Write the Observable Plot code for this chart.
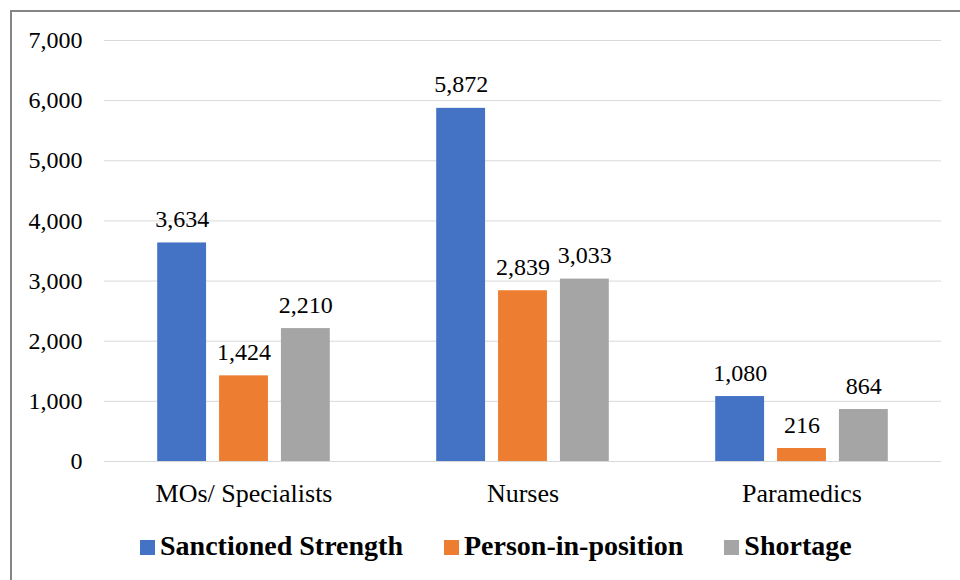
<!DOCTYPE html>
<html>
<head>
<meta charset="utf-8">
<script src="https://cdn.jsdelivr.net/npm/d3@7"></script>
<script src="https://cdn.jsdelivr.net/npm/@observablehq/plot@0.6"></script>
<style>
  body { margin: 0; padding: 0; background: #fff; font-family: 'Times New Roman', 'Liberation Serif', serif; }
  .frame { position: absolute; left: 10px; top: 10px; width: 969px; height: 600px; border: 2px solid #858585; box-sizing: border-box; }
  .chart { position: absolute; left: 0; top: 0; }
  .legend { position: absolute; left: 140px; top: 532px; white-space: nowrap; font-weight: bold; font-size: 28px; line-height: 28px; color: #000; font-family: 'Times New Roman', 'Liberation Serif', serif; }
  .item { display: inline-block; margin-right: 41px; }
  .sw { display: inline-block; width: 15px; height: 15px; margin-right: 5px; vertical-align: baseline; }
  svg text { font-family: 'Times New Roman', 'Liberation Serif', serif; }
</style>
</head>
<body>
<div class="frame"></div>
<div class="chart" id="chart"></div>
<div class="legend" id="legend"></div>
<script>
const categories = ["MOs/ Specialists", "Nurses", "Paramedics"];
const series = ["Sanctioned Strength", "Person-in-position", "Shortage"];
const sanctioned = [3634, 5872, 1080];
const inPosition = [1424, 2839, 216];
const shortage = [2210, 3033, 864];
const colors = ["#4472C4", "#ED7D31", "#A5A5A5"];
const yTicks = [0, 1000, 2000, 3000, 4000, 5000, 6000, 7000];

const valuesBySeries = [sanctioned, inPosition, shortage];
const data = [];
categories.forEach((c, i) => {
  series.forEach((s, j) => data.push({category: c, series: s, value: valuesBySeries[j][i]}));
});

const chart = Plot.plot({
  width: 960,
  height: 510,
  marginTop: 40,
  marginBottom: 49,
  marginLeft: 103,
  marginRight: 18,
  style: {fontFamily: "Times New Roman", color: "#000", background: "transparent"},
  fx: {domain: categories, paddingInner: 0, paddingOuter: 0, label: null},
  x: {domain: series, paddingInner: 0.21, paddingOuter: 0.86, axis: null, round: false},
  y: {domain: [0, 7000], label: null},
  color: {domain: series, range: colors},
  marks: [
    Plot.gridY(yTicks, {stroke: "#d9d9d9", strokeOpacity: 1, strokeWidth: 1}),
    Plot.axisY(yTicks, {tickSize: 0, tickPadding: 22, fontSize: 24, tickFormat: d3.format(","), label: null}),
    Plot.axisFx({anchor: "bottom", tickSize: 0, tickPadding: 22, fontSize: 26, label: null}),
    Plot.barY(data, {fx: "category", x: "series", y: "value", fill: "series"}),
    Plot.text(data, {fx: "category", x: "series", y: "value", text: d => d3.format(",")(d.value),
      lineAnchor: "bottom", dy: -16, fontSize: 24, fill: "#000"})
  ]
});
document.getElementById("chart").appendChild(chart);

const legend = document.getElementById("legend");
series.forEach((s, j) => {
  const item = document.createElement("span");
  item.className = "item";
  if (j === series.length - 1) item.style.marginRight = "0";
  const sw = document.createElement("span");
  sw.className = "sw";
  sw.style.background = colors[j];
  item.appendChild(sw);
  item.appendChild(document.createTextNode(s));
  legend.appendChild(item);
});
</script>
</body>
</html>
